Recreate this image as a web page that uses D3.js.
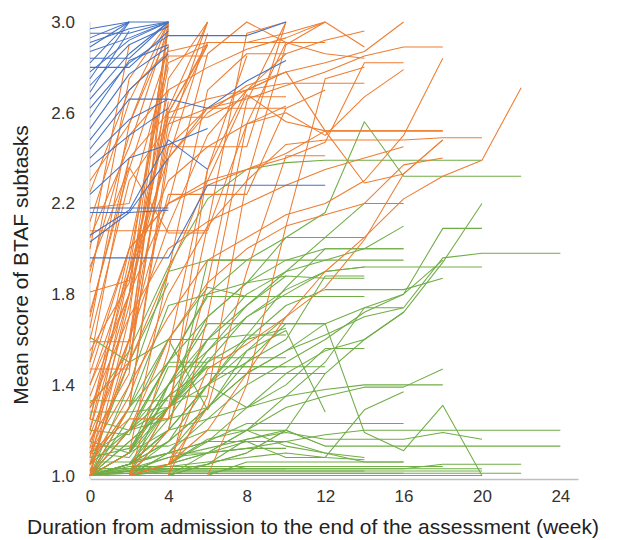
<!DOCTYPE html>
<html>
<head>
<meta charset="utf-8">
<script src="https://cdn.jsdelivr.net/npm/d3@7"></script>
<style>
body{margin:0;background:#fff;}
svg text{font-family:"Liberation Sans",Arial,sans-serif;}
</style>
</head>
<body>
<svg id="chart" width="617" height="540"></svg>
<script>
// Each line: [startWeek, value at start, value at start+2, value at start+4, ...]
const xTicks = [0, 4, 8, 12, 16, 20, 24];
const yTicks = [1.0, 1.4, 1.8, 2.2, 2.6, 3.0];

const blueLines = [
  [0,2.97,3.00,3.00],
  [0,2.95,2.95,3.00],
  [0,2.93,3.00],
  [0,2.91,2.97,3.00],
  [0,2.89,3.00],
  [0,2.87,2.93,3.00],
  [0,2.84,2.84,3.00],
  [0,2.82,3.00],
  [0,2.80,2.80,2.96],
  [0,2.78,2.92,3.00],
  [0,2.75,3.00],
  [0,2.72,2.90,2.98],
  [0,2.69,2.96],
  [0,2.66,2.86,3.00],
  [0,2.62,2.82,2.94,2.94,2.94,3.00],
  [0,2.58,2.83,2.90],
  [0,2.53,2.77,2.89],
  [0,2.48,2.70,2.86],
  [0,2.44,2.66,2.66],
  [0,2.40,2.57,2.66,2.62,2.74,2.83],
  [0,2.36,2.50,2.62],
  [0,2.24,2.40,2.46,2.53],
  [0,2.06,2.17,2.48,2.35],
  [0,2.18,2.18,2.18],
  [0,2.16,2.16,2.17],
  [0,2.03,2.16,2.40],
  [0,1.96,1.96,1.96,2.28,2.28,2.28,2.28]
];

const orangeLines = [
  [0,1.00,1.70,3.00],
  [0,1.00,1.60,2.75,3.00],
  [0,1.02,1.55,2.90],
  [0,1.05,1.30,2.40,2.95],
  [0,1.08,1.90,2.97],
  [0,1.12,1.75,2.65],
  [0,1.15,1.45,3.00],
  [0,1.20,1.95,2.85,2.85],
  [0,1.25,2.00,2.80],
  [0,1.32,1.50,2.55,2.90],
  [0,1.40,1.80,3.00],
  [0,1.47,1.47,2.60,2.90],
  [0,1.50,2.40],
  [0,1.55,1.85,2.70],
  [0,1.59,1.59,2.50,3.00],
  [0,1.65,2.55,2.95],
  [0,1.72,2.35,2.88],
  [0,1.81,1.86,2.62,3.00],
  [0,1.85,2.75,3.00],
  [0,1.92,2.36,2.07,2.07],
  [0,2.00,2.90],
  [0,2.05,2.45,2.98],
  [0,2.08,2.08,2.08,2.08,2.55,2.63],
  [0,2.12,2.65,3.00],
  [0,2.18,2.20,2.82,2.90],
  [0,2.25,2.70,2.87,2.91,2.91,2.91],
  [0,2.30,2.55,3.00],
  [0,1.00,1.00,1.30,2.10,2.95,3.00],
  [0,1.00,1.10,1.90,2.70,2.86,2.86],
  [0,1.00,1.00,1.00,1.70,2.55,2.91,2.91],
  [0,1.10,1.25,1.25,2.35,2.70,2.78],
  [0,1.18,1.60,2.24,2.24,2.24,2.62,2.70],
  [0,1.00,1.30,2.45,2.45,2.45,3.00],
  [0,1.35,1.80,2.20,2.86,3.00,2.91,2.86,2.84],
  [0,1.05,1.80,2.60,2.91,2.91,2.95,3.00],
  [0,1.15,1.60,2.10,2.50,2.70,2.86,2.92,2.96],
  [0,1.25,1.90,2.40,2.60,2.72,2.78,2.52,2.29,2.33,2.48],
  [0,1.05,1.35,1.80,2.10,2.30,2.46,2.48,2.48,2.48,2.49,2.49],
  [0,1.00,1.00,1.05,1.30,1.90,2.41,2.41],
  [0,1.10,1.50,1.90,2.30,2.68,2.56,2.52,2.52,2.52,2.52],
  [4,1.00,1.35,2.30,2.90,3.00],
  [2,1.00,1.55,2.35,2.85],
  [2,1.00,1.20,1.85,2.65,3.00],
  [6,1.00,1.40,2.10,2.75,2.80],
  [0,1.00,1.00,1.05,1.47,1.58,1.70,1.83,2.04,2.33,2.48],
  [0,1.50,2.00,2.20,2.30,2.35,2.40,2.47,2.82,2.82],
  [0,1.40,1.90,2.30,2.45,2.55,2.60,2.50,2.67,2.79],
  [0,1.60,2.30,2.55,2.62,2.66,2.72,2.78,2.85,2.89,2.89],
  [0,1.20,1.80,2.45,2.62,2.70,2.78,2.82,2.87,3.00],
  [0,1.10,1.40,1.70,1.95,2.05,2.15,2.20,2.30,2.50,2.84],
  [0,1.00,1.00,1.05,1.20,1.45,1.70,1.90,2.05,2.22,2.32,2.39,2.71],
  [0,1.30,1.70,2.00,2.12,2.20,2.28,2.35,2.40,2.45],
  [0,1.70,2.40,2.60,2.66,2.70,2.73,2.73,2.73],
  [0,1.45,2.00,2.20,2.28,2.35,2.42,2.52,2.52,2.52,2.52],
  [0,1.00,1.20,1.60,1.85,2.00,2.10,2.15,2.20,2.37,2.40],
  [0,1.90,2.50,2.70,2.80,2.88,2.93,3.00,2.89],
  [2,1.90,2.58,2.58,2.67,2.67],
  [4,2.40,2.62,2.62,2.62]
];

const greenLines = [
  [0,1.00,1.00,1.00,1.00,1.00,1.00,1.00],
  [0,1.00,1.00,1.00,1.00,1.00,1.00,1.00,1.00,1.00,1.00,1.00],
  [0,1.01,1.01,1.01,1.01,1.01,1.01,1.01,1.01,1.01],
  [0,1.00,1.02,1.02,1.02,1.02,1.02,1.02,1.02,1.02,1.02,1.02],
  [0,1.02,1.02,1.03,1.03,1.03,1.03],
  [0,1.00,1.00,1.03,1.03,1.03,1.03,1.03,1.03,1.03,1.03,1.03],
  [0,1.03,1.03,1.03,1.03],
  [0,1.00,1.04,1.04,1.04,1.04,1.04,1.04,1.04],
  [0,1.03,1.03,1.03,1.03,1.03,1.03,1.03,1.03,1.03,1.05,1.05,1.05],
  [0,1.00,1.00,1.00,1.00,1.06,1.06,1.06,1.06,1.06],
  [0,1.01,1.01,1.01,1.01,1.01,1.01,1.01,1.01,1.01,1.01,1.01,1.01],
  [2,1.00,1.00,1.00,1.00,1.00],
  [0,1.02,1.02,1.02,1.02,1.02,1.02,1.02,1.02],
  [0,1.00,1.01,1.01,1.01,1.04,1.04,1.04,1.04,1.04,1.04],
  [0,1.00,1.00,1.00,1.05,1.10,1.20,1.13,1.13,1.13,1.13,1.13,1.13,1.13],
  [0,1.00,1.02,1.08,1.12,1.16,1.19,1.16,1.16,1.16,1.19,1.16],
  [0,1.00,1.05,1.10,1.15,1.15,1.15,1.18,1.20,1.20,1.20,1.20,1.20,1.20],
  [0,1.10,1.20,1.30,1.40,1.50,1.67,1.67,1.19,1.11,1.31,1.00],
  [0,1.00,1.05,1.10,1.15,1.23,1.23,1.23,1.23,1.23],
  [0,1.00,1.02,1.05,1.10,1.15,1.08,1.08,1.29,1.37],
  [0,1.00,1.00,1.05,1.10,1.20,1.30,1.35,1.39,1.39,1.47],
  [0,1.00,1.10,1.20,1.25,1.30,1.35,1.38,1.40,1.40,1.40],
  [0,1.00,1.00,1.05,1.16,1.20,1.13,1.10,1.06,1.06],
  [0,1.00,1.03,1.08,1.10,1.12,1.15,1.10,1.08],
  [0,1.00,1.20,1.50,1.79,1.79,1.79,1.79,1.79],
  [0,1.00,1.05,1.20,1.95,1.95,1.95,1.95,1.95,1.95],
  [0,1.00,1.10,1.40,1.67,1.67,1.67,1.67],
  [0,1.05,1.20,1.35,1.48,1.48,1.48],
  [0,1.00,1.15,1.30,1.45,1.45,1.45,1.45],
  [0,1.00,1.05,1.20,1.40,1.55,1.64,1.28],
  [0,1.00,1.00,1.10,1.30,1.50,1.60,1.88,1.88],
  [0,1.00,1.10,1.35,1.60,1.75,1.88,1.87,1.87],
  [0,1.00,1.05,1.25,1.50,1.70,1.80,1.90,1.92,1.92,1.92,1.92],
  [0,1.00,1.02,1.15,1.30,1.45,1.55,1.67,1.74,1.74],
  [0,1.00,1.00,1.10,1.25,1.40,1.50,1.60,1.72,1.80,2.09,2.09],
  [0,1.00,1.00,1.05,1.15,1.30,1.45,1.55,1.60,1.72,1.94,2.20],
  [0,1.00,1.05,1.15,1.30,1.45,1.55,1.62,1.70,1.74,1.96,1.98,1.98,1.98],
  [0,1.00,1.05,1.20,1.40,1.60,1.75,1.82,1.82,1.82,1.87],
  [0,1.05,1.30,1.50,1.70,1.85,2.05,2.16,2.56,2.32,2.32,2.32,2.32],
  [0,1.30,1.55,1.92,2.22,2.35,2.38,2.39,2.39,2.39,2.39,2.39],
  [0,1.00,1.20,1.50,1.80,1.95,2.05,2.05,2.05],
  [0,1.00,1.10,1.40,1.70,1.85,1.95,2.00,2.00,2.00],
  [0,1.00,1.05,1.30,1.60,1.80,1.90,1.95,2.00,2.10],
  [0,1.00,1.10,1.30,1.55,1.75,1.90,2.05,2.20,2.20],
  [0,1.00,1.40,1.90,1.95,1.95],
  [0,1.00,1.30,1.75,1.80,1.85,1.88],
  [0,1.05,1.50,1.85],
  [0,1.00,1.25,1.60,1.60],
  [0,1.33,1.33,1.33],
  [0,1.28,1.28,1.30],
  [0,1.25,1.20,1.25,1.30],
  [0,1.61,1.50,1.60,1.29,1.55,1.70],
  [0,1.20,1.18,1.50,1.50],
  [0,1.15,1.10,1.48,1.48],
  [0,1.13,1.13,1.13,1.20,1.20,1.20],
  [0,1.10,1.08,1.30,1.50,1.60,1.65],
  [0,1.08,1.12,1.35,1.35],
  [0,1.00,1.20,1.40,1.60,1.62,1.62],
  [2,1.00,1.40,1.55,1.70,1.82,1.90,1.92],
  [0,1.00,1.00,1.30,1.52,1.52,1.52],
  [0,1.00,1.05,1.15,1.40,1.30,1.40,1.56,1.56],
  [0,1.00,1.00,1.00,1.10,1.20,1.35,1.50,1.74,1.80,1.95],
  [0,1.00,1.00,1.02,1.05,1.10,1.20,1.45,1.60,1.72],
  [0,1.00,1.00,1.00,1.05,1.16,1.20,1.13],
  [0,1.00,1.02,1.04,1.06,1.08,1.10,1.08,1.07],
  [0,1.06,1.06,1.10,1.10,1.12,1.12],
  [0,1.00,1.15,1.30,1.48,1.48,1.48,1.48],
  [0,1.00,1.00,1.20,1.40,1.62,1.83,2.00,2.00,2.00],
  [0,1.00,1.30,1.60,1.83,1.79,1.79]
];

const svg = d3.select("#chart");
const x = d3.scaleLinear().domain([0, 24.9]).range([90, 578]);
const y = d3.scaleLinear().domain([0.985, 3.0]).range([479, 22]);

const toPts = l => l.slice(1).map((v, i) => [l[0] + 2 * i, v]);
const line = d3.line().x(d => x(d[0])).y(d => y(d[1]));

// y axis line
svg.append("line").attr("x1", x(0)).attr("x2", x(0)).attr("y1", y(3.0)).attr("y2", y(0.985))
  .attr("stroke", "#d4d4d4").attr("stroke-width", 1);

function drawGroup(data, color) {
  svg.append("g").selectAll("path").data(data).join("path")
    .attr("d", d => line(toPts(d)))
    .attr("fill", "none").attr("stroke", color).attr("stroke-width", 1.05)
    .attr("stroke-linejoin", "round");
}
drawGroup(greenLines, "#70AD47");
drawGroup(orangeLines, "#ED7D31");
drawGroup(blueLines, "#4472C4");

// x axis
const xAxis = d3.axisBottom(x).tickValues(xTicks).tickSize(0).tickPadding(11).tickFormat(d3.format("d"));
const gx = svg.append("g").attr("transform", `translate(0,${y(0.985)})`).call(xAxis);
gx.select(".domain").attr("stroke", "#bfbfbf").attr("stroke-width", 1.5);
gx.selectAll("text").attr("font-size", 17).attr("fill", "#333");

// y axis labels
const yAxis = d3.axisLeft(y).tickValues(yTicks).tickSize(0).tickPadding(15).tickFormat(d3.format(".1f"));
const gy = svg.append("g").attr("transform", `translate(${x(0)},0)`).call(yAxis);
gy.select(".domain").remove();
gy.selectAll("text").attr("font-size", 17).attr("fill", "#333");

svg.append("text").attr("x", 313).attr("y", 534).attr("text-anchor", "middle")
  .attr("font-size", 21).attr("fill", "#222")
  .text("Duration from admission to the end of the assessment (week)");
svg.append("text").attr("transform", "translate(28,265) rotate(-90)").attr("text-anchor", "middle")
  .attr("font-size", 21).attr("fill", "#222")
  .text("Mean score of BTAF subtasks");
</script>
</body>
</html>
